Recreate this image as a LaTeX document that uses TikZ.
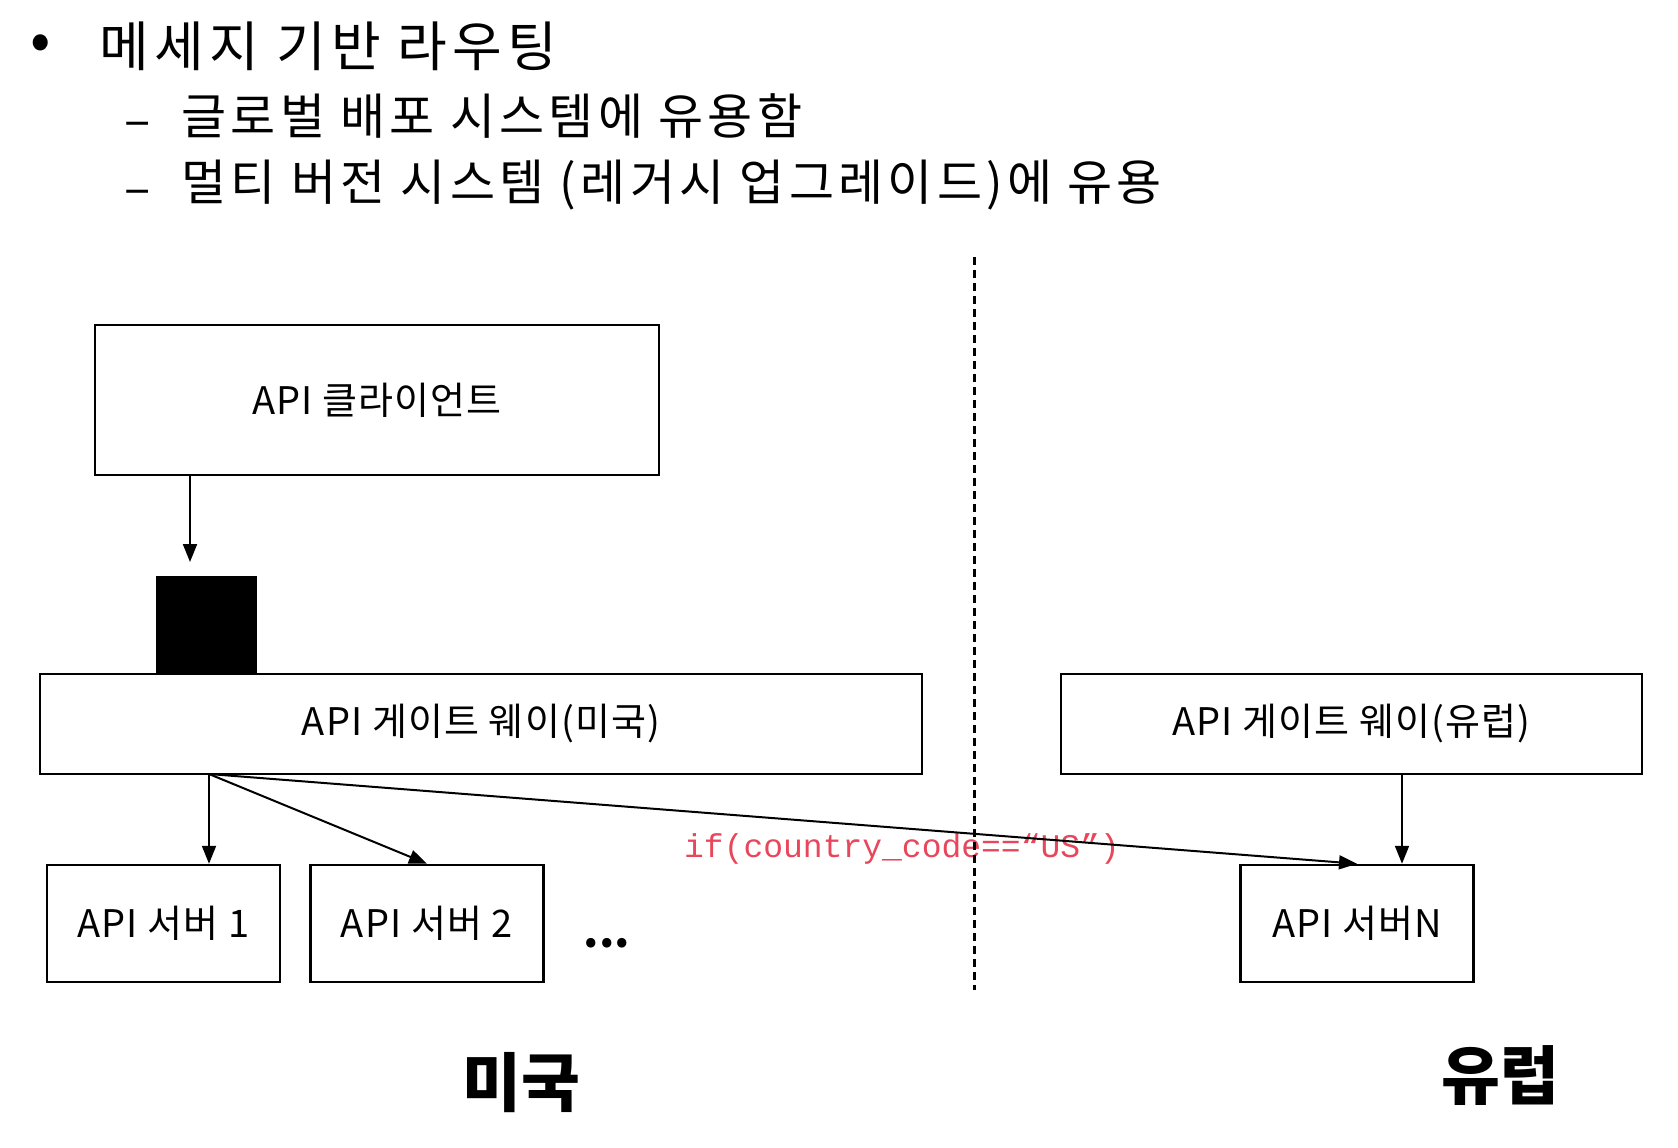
\documentclass[tikz,border=0pt]{standalone}
\usepackage{fontspec}
\setmainfont{Noto Sans CJK KR}
\newfontfamily\codefont{Liberation Mono}
\usetikzlibrary{arrows.meta}
\definecolor{condred}{RGB}{232,70,90}

\begin{document}
\begin{tikzpicture}[x=1pt,y=-1pt,
        head/.style={anchor=west,font=\fontsize{49}{56}\selectfont\addfontfeatures{LetterSpace=8.7}},
        box/.style={draw,line width=2.5pt,inner sep=0pt,font=\fontsize{38}{44}\selectfont\addfontfeatures{LetterSpace=3}},
        srv/.style={box,minimum width=233pt,minimum height=117pt},
        arr/.style={-{Triangle[length=18pt,width=14pt]},line width=2pt}]
        \useasboundingbox (0,0) rectangle (1678,1148);
        % heading
        \node (dot) at (41,48) {\fontsize{60}{66}\selectfont •};
        \node[head,font=\fontsize{54}{60}\selectfont\addfontfeatures{LetterSpace=9.6}] (t1) at (96,46) {메세지 기반 라우팅};
        \node (d2) at (138,130) {\fontsize{49}{56}\selectfont –};
        \node[head] (t2) at (178,116) {글로벌 배포 시스템에 유용함};
        \node (d3) at (138,198) {\fontsize{49}{56}\selectfont –};
        \node[head] (t3) at (178,185) {멀티 버전 시스템 (레거시 업그레이드)에 유용};
        % boxes
        \node[box,minimum width=564pt,minimum height=150pt] (client) at (377,400) {API 클라이언트};
        \node[fill=black,inner sep=0pt,minimum width=101pt,minimum height=98pt] (blk) at (206.5,625) {};
        \node[box,minimum width=882pt,minimum height=100pt] (gwus) at (481,724) {API 게이트 웨이(미국)};
        \node[box,minimum width=581pt,minimum height=100pt] (gweu) at (1351.5,724) {API 게이트 웨이(유럽)};
        \node[srv] (s1) at (163.5,923.5) {API 서버 1};
        \node[srv] (s2) at (427,923.5) {API 서버 2};
        \node[srv] (sn) at (1357,923.5) {API 서버N};
        \node (more) at (607,943) {\fontsize{44}{50}\selectfont\bfseries ...};
        \node[text=condred] (cond) at (902,849) {\codefont\fontsize{33}{38}\selectfont if(country\_code==“US”)};
        % divider
        \coordinate (dtop) at (974,257);
        \coordinate (dbot) at (974,990);
        \draw[line width=3pt,dash pattern=on 8pt off 5pt] (dtop) -- (dbot);
        % arrows
        \coordinate (cin) at (190,562);
        \draw[arr] (client.south -| cin) -- (cin);
        \coordinate (br) at (209,774);
        \draw[arr] (br) -- (br |- s1.north);
        \draw[arr] (br) -- (s2.north);
        \draw[arr] (br) -- (sn.north);
        \coordinate (euout) at ([xshift=50.5pt]gweu.south);
        \draw[arr] (euout) -- (euout |- sn.north);
        % regions
        \node (us) at (521,1083) {\fontsize{64}{70}\selectfont\bfseries 미국};
        \node (eu) at (1500,1076) {\fontsize{64}{70}\selectfont\bfseries 유럽};
\end{tikzpicture}
\end{document}
